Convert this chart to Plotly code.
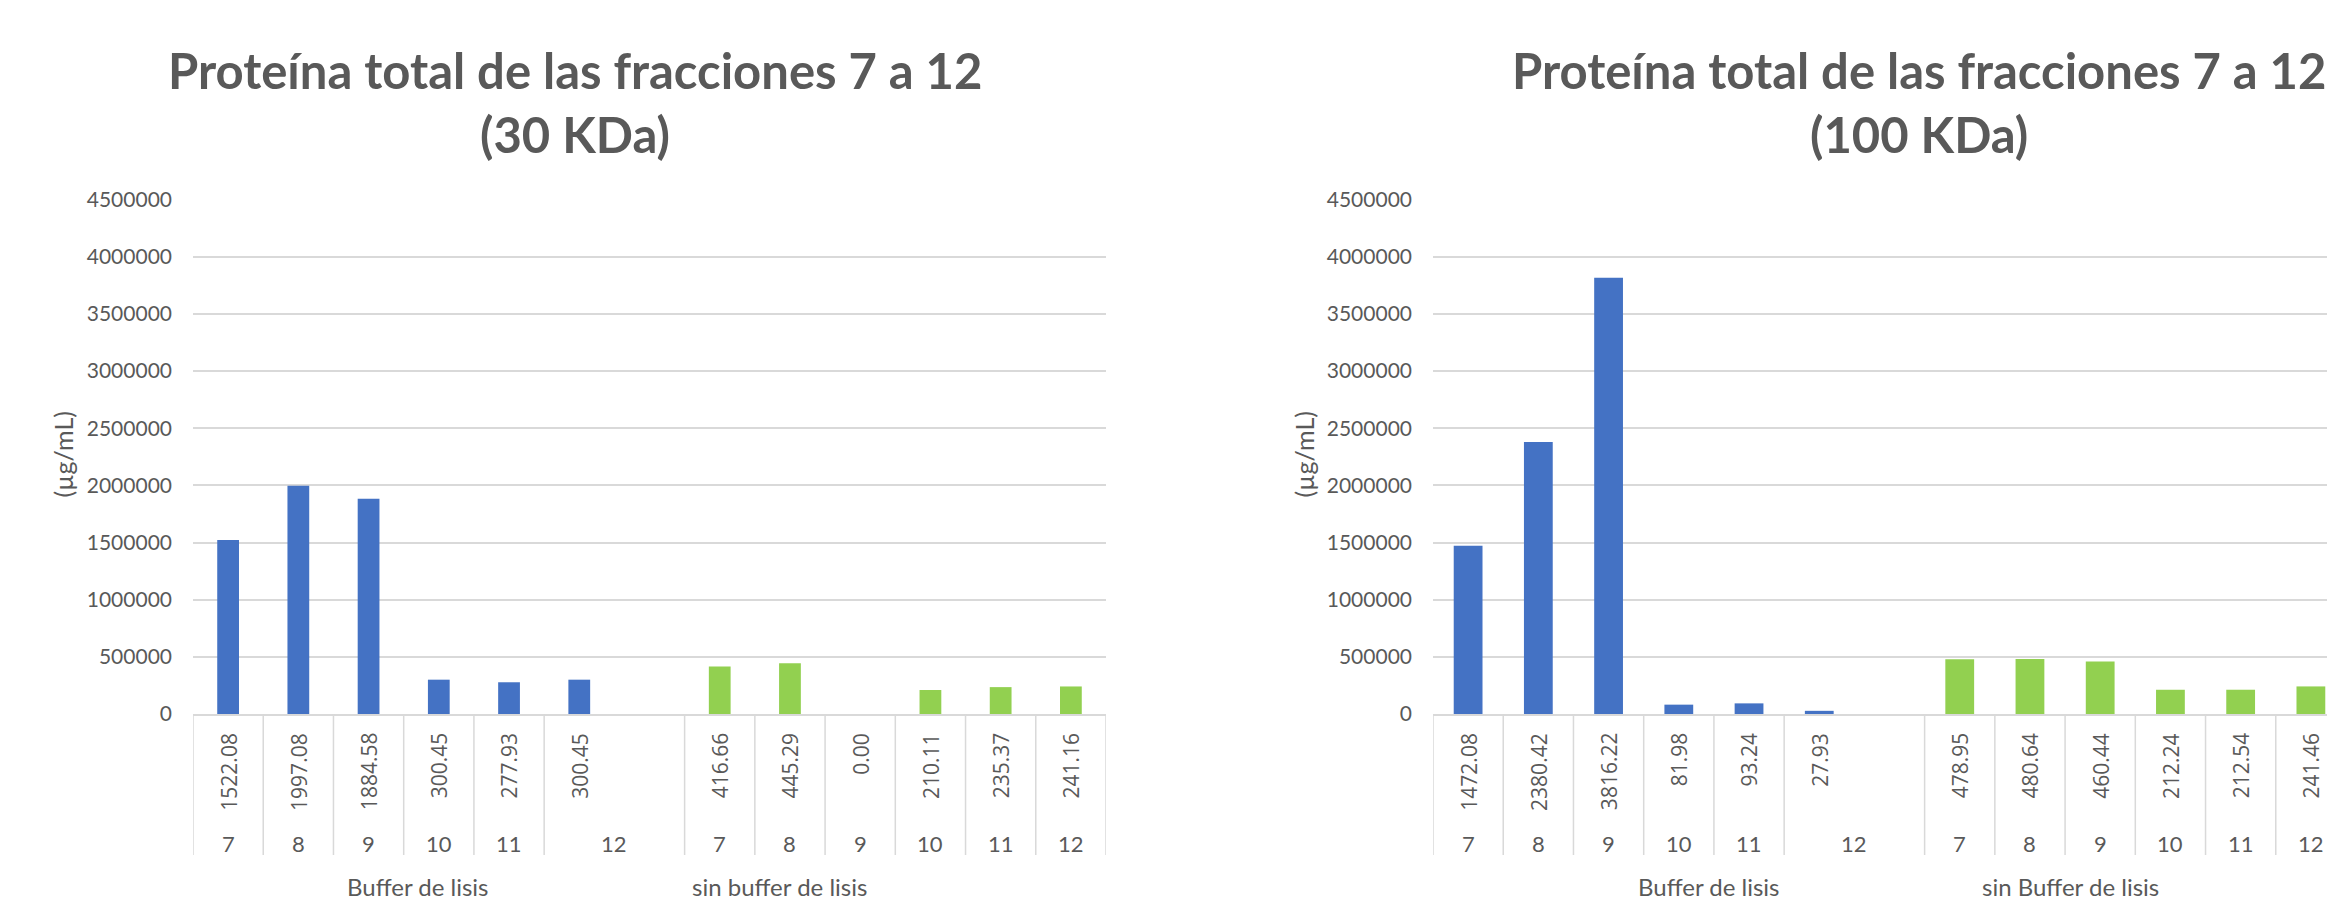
import plotly.graph_objects as go

# ---------------- data ----------------
fractions = ["7", "8", "9", "10", "11", "12"]

# 30 KDa chart
title_30 = ["Proteína total de las fracciones 7 a 12", "(30 KDa)"]
groups_30 = ["Buffer de lisis", "sin buffer de lisis"]
buffer_30 = [1522080, 1997080, 1884580, 300450, 277930, 300450]
sinbuffer_30 = [416660, 445290, 0, 210110, 235370, 241160]
buffer_30_labels = ["1522.08", "1997.08", "1884.58", "300.45", "277.93", "300.45"]
sinbuffer_30_labels = ["416.66", "445.29", "0.00", "210.11", "235.37", "241.16"]

# 100 KDa chart
title_100 = ["Proteína total de las fracciones 7 a 12", "(100 KDa)"]
groups_100 = ["Buffer de lisis", "sin Buffer de lisis"]
buffer_100 = [1472080, 2380420, 3816220, 81980, 93240, 27930]
sinbuffer_100 = [478950, 480640, 460440, 212240, 212540, 241460]
buffer_100_labels = ["1472.08", "2380.42", "3816.22", "81.98", "93.24", "27.93"]
sinbuffer_100_labels = ["478.95", "480.64", "460.44", "212.24", "212.54", "241.46"]

y_title = "(µg/mL)"
y_ticks = [0, 500000, 1000000, 1500000, 2000000, 2500000, 3000000, 3500000, 4000000, 4500000]

# ---------------- layout helpers ----------------
W, H = 2327, 901
BLUE = "#4472C4"
GREEN = "#92D050"
GRID = "#D9D9D9"
TXT = "#595959"
FONT = "Lato"

def px(x):
    return x / W

def py(y):
    return 1 - y / H

SLOT = 913 / 13.0
Y0, YTOP = 720, 191
n = len(fractions)
buf_x = list(range(n))                 # slots 0..5
sin_x = [n + 1 + i for i in range(n)]  # slots 7..12 (slot 6 empty)

fig = go.Figure()

charts = [
    dict(xa="x", ya="y", buf=buffer_30, sin=sinbuffer_30, bl=buffer_30_labels,
         sl=sinbuffer_30_labels, groups=groups_30, title=title_30,
         barw=0.31, title_cx=575, group_cx=[418, 779], ytitle_x=63),
    dict(xa="x2", ya="y2", buf=buffer_100, sin=sinbuffer_100, bl=buffer_100_labels,
         sl=sinbuffer_100_labels, groups=groups_100, title=title_100,
         barw=0.41, title_cx=1919, group_cx=[1709, 2070], ytitle_x=1304),
]

annotations = []
shapes = []
for c in charts:
    fig.add_trace(go.Bar(x=buf_x, y=c["buf"], marker=dict(color=BLUE, line=dict(width=0)),
                         width=c["barw"], xaxis=c["xa"], yaxis=c["ya"], showlegend=False))
    fig.add_trace(go.Bar(x=sin_x, y=c["sin"], marker=dict(color=GREEN, line=dict(width=0)),
                         width=c["barw"], xaxis=c["xa"], yaxis=c["ya"], showlegend=False))
    for xs, labs in ((buf_x, c["bl"]), (sin_x, c["sl"])):
        for xv, lab in zip(xs, labs):
            annotations.append(dict(x=xv, y=py(737), xref=c["xa"], yref="paper", text=lab,
                                    textangle=-90, showarrow=False, xanchor="center", yanchor="top",
                                    font=dict(family="Open Sans", size=21, color=TXT)))
    for i, f in enumerate(fractions):
        xb = buf_x[i] if i < n - 1 else buf_x[i] + 0.5
        annotations.append(dict(x=xb, y=py(853), xref=c["xa"], yref="paper", text=f,
                                showarrow=False, xanchor="center", yanchor="middle",
                                font=dict(family=FONT, size=22, color=TXT)))
        annotations.append(dict(x=sin_x[i], y=py(853), xref=c["xa"], yref="paper", text=f,
                                showarrow=False, xanchor="center", yanchor="middle",
                                font=dict(family=FONT, size=22, color=TXT)))
    for g, gx in zip(c["groups"], c["group_cx"]):
        annotations.append(dict(x=px(gx), y=py(897), xref="paper", yref="paper", text=g,
                                showarrow=False, xanchor="center", yanchor="middle",
                                font=dict(family=FONT, size=24, color=TXT)))
    annotations.append(dict(x=px(c["title_cx"]), y=py(58), xref="paper", yref="paper",
                            text="<b>%s</b>" % c["title"][0], showarrow=False,
                            xanchor="center", yanchor="middle",
                            font=dict(family=FONT, size=49, color=TXT)))
    annotations.append(dict(x=px(c["title_cx"]), y=py(123), xref="paper", yref="paper",
                            text="<b>%s</b>" % c["title"][1], showarrow=False,
                            xanchor="center", yanchor="middle",
                            font=dict(family=FONT, size=49, color=TXT)))
    annotations.append(dict(x=px(c["ytitle_x"]), y=py(453), xref="paper", yref="paper",
                            text=y_title, textangle=-90, showarrow=False,
                            xanchor="center", yanchor="middle",
                            font=dict(family=FONT, size=25, color=TXT)))
    for k in range(0, 2 * n + 2):
        if k == n:  # merged "12" cell: no boundary inside
            continue
        shapes.append(dict(type="line", xref=c["xa"], yref="paper", x0=k - 0.5, x1=k - 0.5,
                           y0=py(Y0), y1=py(865), line=dict(color=GRID, width=1.5)))

yaxis_common = dict(range=[0, 4500000], tickvals=y_ticks, ticktext=[str(v) for v in y_ticks],
                    showgrid=True, gridcolor=GRID, gridwidth=1.5, zeroline=False,
                    showline=False, ticks="", ticklabelstandoff=20,
                    tickfont=dict(family=FONT, size=21, color=TXT),
                    domain=[py(Y0), py(YTOP)], fixedrange=True)

fig.update_layout(
    width=W, height=H,
    margin=dict(l=0, r=0, t=0, b=0),
    paper_bgcolor="white", plot_bgcolor="white",
    barmode="overlay",
    xaxis=dict(domain=[px(193), px(1106)], range=[-0.5, 12.5], showticklabels=False,
               showgrid=False, zeroline=False, showline=True, linecolor=GRID, linewidth=1.5,
               ticks=""),
    xaxis2=dict(domain=[px(1433), 1.0], range=[-0.5, -0.5 + (W - 1433) / SLOT],
                showticklabels=False, showgrid=False, zeroline=False, showline=True,
                linecolor=GRID, linewidth=1.5, ticks="", anchor="y2"),
    yaxis=dict(**yaxis_common, anchor="x"),
    yaxis2=dict(**yaxis_common, anchor="x2"),
    annotations=annotations,
    shapes=shapes,
)

fig.write_html("out.html",
               post_script="document.body.style.margin='0';document.body.style.overflow='hidden';")
